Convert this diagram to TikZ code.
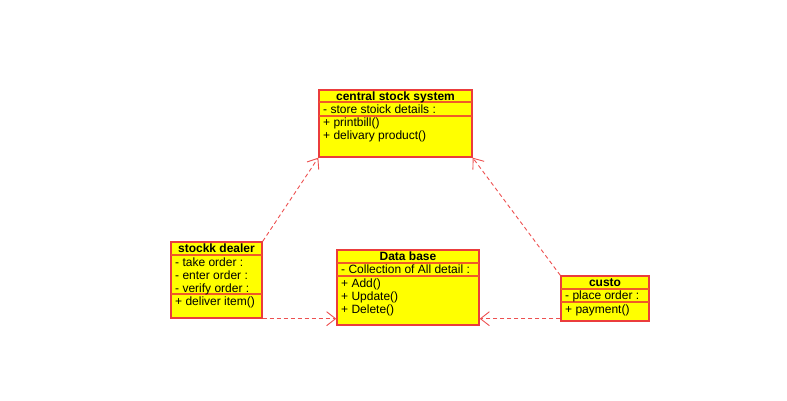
\documentclass[tikz,border=0pt]{standalone}
\usepackage{fontspec}
\setmainfont{Liberation Sans}
\usetikzlibrary{arrows.meta}
\definecolor{bord}{RGB}{235,60,60}
\definecolor{sepc}{RGB}{240,90,40}
\definecolor{fillc}{RGB}{255,255,0}
\tikzset{
  classbox/.style={draw=bord, fill=fillc, line width=1.4pt, inner sep=0pt},
  sepline/.style={draw=sepc, line width=1.4pt},
  member/.style={anchor=west, inner sep=0pt, yshift=-1pt, font=\fontsize{12}{13}\selectfont, text height=8.5pt, text depth=2.5pt},
  ctitle/.style={inner sep=0pt, yshift=-1pt, font=\bfseries\fontsize{12}{13}\selectfont, text height=8.5pt, text depth=2.5pt},
  dep/.style={draw=bord!90!white, dash pattern=on 4pt off 3pt, line width=0.9pt, -{Straight Barb[length=9pt,width=14pt,line width=0.9pt]}}
}
\begin{document}
\begin{tikzpicture}[x=1pt,y=-1pt]
\useasboundingbox (0,0) rectangle (787,400);
% central stock system
\node[classbox, minimum width=153pt, minimum height=67pt] (cs) at (395.5,123.5) {};
\draw[sepline] (319,102) -- (472,102);
\draw[sepline] (319,116) -- (472,116);
\node[ctitle] (cst) at (395.5,96) {central stock system};
\node[member] (csa) at (323,109) {- store stoick details :};
\node[member] (csm1) at (323,122) {+ printbill()};
\node[member] (csm2) at (323,135) {+ delivary product()};
% stockk dealer
\node[classbox, minimum width=91pt, minimum height=76pt] (sd) at (216.5,280) {};
\draw[sepline] (171,255) -- (262,255);
\draw[sepline] (171,294) -- (262,294);
\node[ctitle] (sdt) at (216.5,248.5) {stockk dealer};
\node[member] (sda1) at (175,262) {- take order :};
\node[member] (sda2) at (175,275) {- enter order :};
\node[member] (sda3) at (175,288) {- verify order :};
\node[member] (sdm1) at (175,301) {+ deliver item()};
% Data base
\node[classbox, minimum width=142pt, minimum height=75pt] (db) at (408,287.5) {};
\draw[sepline] (337,263) -- (479,263);
\draw[sepline] (337,276) -- (479,276);
\node[ctitle] (dbt) at (408,256.5) {Data base};
\node[member] (dba) at (341,269.5) {- Collection of All detail :};
\node[member] (dbm1) at (341,283) {+ Add()};
\node[member] (dbm2) at (341,296) {+ Update()};
\node[member] (dbm3) at (341,309) {+ Delete()};
% custo
\node[classbox, minimum width=88pt, minimum height=45pt] (cu) at (605,298.5) {};
\draw[sepline] (561,289) -- (649,289);
\draw[sepline] (561,302) -- (649,302);
\node[ctitle] (cut) at (605,282.5) {custo};
\node[member] (cua) at (565,295.5) {- place order :};
\node[member] (cum) at (565,309) {+ payment()};
% connectors
\draw[dep] (sd.north east) -- (cs.south west);
\draw[dep] (cu.north west) -- (cs.south east);
\draw[dep] ([yshift=7pt]db.south west -| sd.east) -- ([yshift=7pt]db.south west);
\draw[dep] ([yshift=7pt]db.south east -| cu.west) -- ([yshift=7pt]db.south east);
\end{tikzpicture}
\end{document}
